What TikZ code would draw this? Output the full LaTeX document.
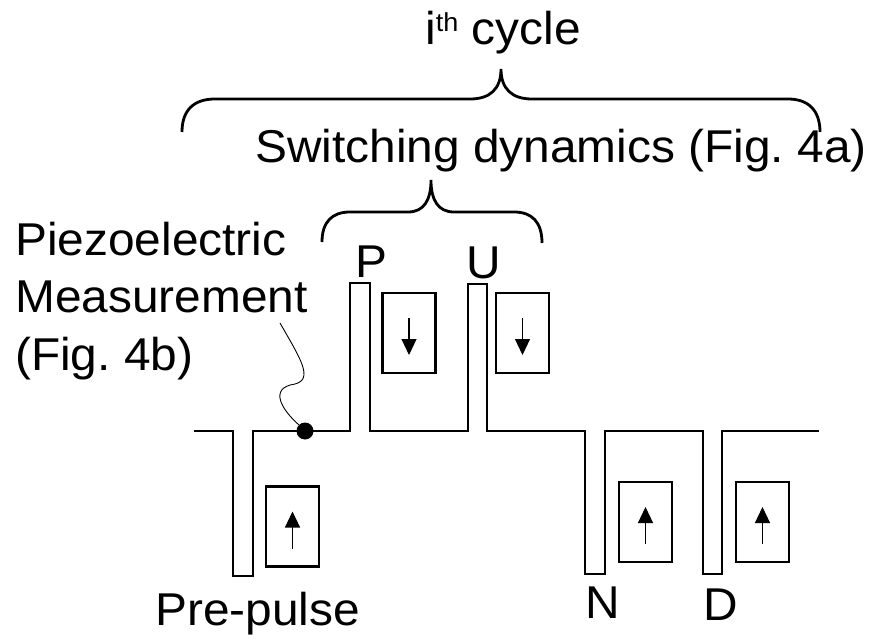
\documentclass[tikz,border=0pt]{standalone}
\usepackage{fontspec}
\setmainfont{Liberation Sans}[FakeStretch=1.04]
\usetikzlibrary{arrows.meta}
\tikzset{
  polbox/.style={draw, line width=2.8pt, minimum width=53pt, minimum height=80pt, inner sep=0pt},
  polarrow/.style={line width=1.1pt, -{Triangle[width=15pt,length=16pt]}},
  lbl/.style={inner sep=0pt, font=\fontsize{46}{57.5}\selectfont},
}
\begin{document}
\begin{tikzpicture}[x=1pt, y=-1pt]
    \useasboundingbox (0,0) rectangle (873,639);

    % pulse train
    \draw[line width=2.8pt]
        (194,431) -- (233,431) -- (233,576) -- (253,576) -- (253,431)
        -- (350,431) -- (350,283) -- (370,283) -- (370,431)
        -- (468,431) -- (468,284) -- (487,284) -- (487,431)
        -- (585,431) -- (585,574) -- (605,574) -- (605,431)
        -- (703,431) -- (703,574) -- (722,574) -- (722,431) -- (819,431);

    % polarisation boxes
    \node[polbox] (prebox) at (292.5,526.5) {};
    \node[polbox] (pbox) at (409,333) {};
    \node[polbox] (ubox) at (522.5,333) {};
    \node[polbox] (nbox) at (645.5,522) {};
    \node[polbox] (dbox) at (762.5,522) {};

    \draw[polarrow] ([yshift=-22pt]prebox.center) -- ([yshift=15pt]prebox.center);
    \draw[polarrow] ([yshift=15pt]pbox.center) -- ([yshift=-22pt]pbox.center);
    \draw[polarrow] ([yshift=15pt]ubox.center) -- ([yshift=-22pt]ubox.center);
    \draw[polarrow] ([yshift=-22pt]nbox.center) -- ([yshift=15pt]nbox.center);
    \draw[polarrow] ([yshift=-22pt]dbox.center) -- ([yshift=15pt]dbox.center);

    % measurement point
    \node[circle, fill, minimum size=17pt, inner sep=0pt] (probe) at (305,431) {};
    \coordinate (piezotip) at (280,323);
    \draw[line width=0.9pt] (probe.north west)
        .. controls (282,410) and (268,388) .. (295,384)
        .. controls (314,379) and (300,358) .. (piezotip);

    % braces
    \draw[line width=2.8pt] (182,132) .. controls (182,110) and (194,99) .. (215,99)
        -- (470,99) .. controls (490,99) and (501,89) .. (501,69)
        .. controls (501,89) and (512,99) .. (532,99)
        -- (788,99) .. controls (808,99) and (820,110) .. (820,132);
    \draw[line width=2.8pt] (322,242) .. controls (322,222) and (332,212) .. (350,212)
        -- (408,212) .. controls (424,212) and (431,200) .. (431,180)
        .. controls (431,200) and (438,212) .. (454,212)
        -- (514,212) .. controls (532,212) and (542,222) .. (542,243);

    % labels
    \node[lbl, anchor=base west] (cycle) at (425,45)
        {i\raisebox{13pt}{\fontsize{26}{26}\selectfont th} cycle};
    \node[lbl, anchor=base west] (switching) at (255,163) {Switching dynamics (Fig.\ 4a)};
    \node[lbl, anchor=base west, align=left] (piezo) at (15,370)
        {Piezoelectric\\Measurement\\(Fig.\ 4b)};
    \node[lbl, anchor=base west] (plabel) at (355,277) {P};
    \node[lbl, anchor=base west] (ulabel) at (466,278) {U};
    \node[lbl, anchor=base west] (nlabel) at (585,618) {N};
    \node[lbl, anchor=base west] (dlabel) at (703,620) {D};
    \node[lbl, anchor=base west] (prelabel) at (155,625) {Pre-pulse};
\end{tikzpicture}
\end{document}
